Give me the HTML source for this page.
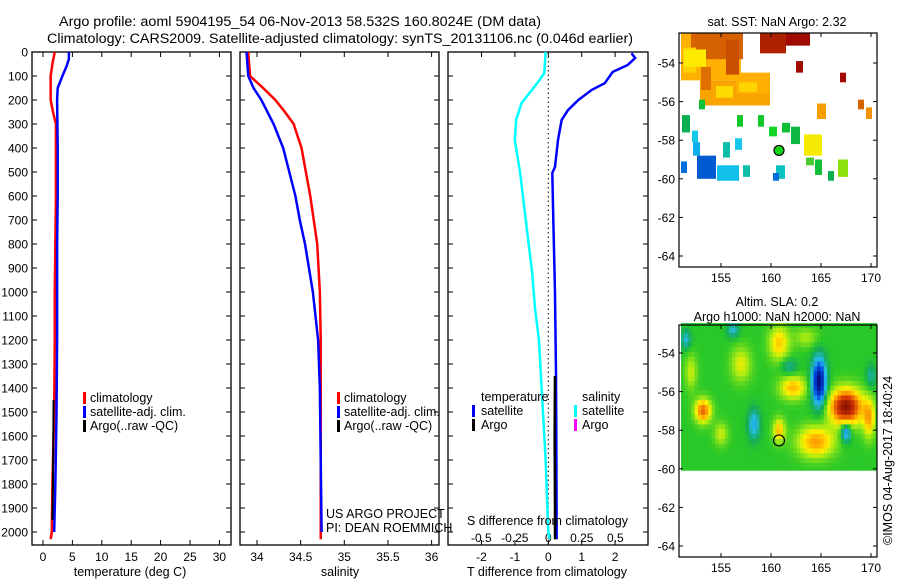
<!DOCTYPE html>
<html><head><meta charset="utf-8"><style>
html,body{margin:0;padding:0;background:#fff;}
svg{display:block;font-family:"Liberation Sans",sans-serif;}
text{fill:#000;}
</style></head><body>
<svg id="fig" width="900" height="580" viewBox="0 0 900 580" xmlns="http://www.w3.org/2000/svg">
<text x="59" y="26" font-size="13.5" textLength="482" lengthAdjust="spacingAndGlyphs">Argo profile: aoml 5904195_54 06-Nov-2013 58.532S 160.8024E (DM data)</text>
<text x="47" y="43" font-size="13.5" textLength="586" lengthAdjust="spacingAndGlyphs">Climatology: CARS2009. Satellite-adjusted climatology: synTS_20131106.nc (0.046d earlier)</text>
<g id="g"></g>
</svg>
<script>
// ---------- data ----------
const depthTicks=[0,100,200,300,400,500,600,700,800,900,1000,1100,1200,1300,1400,1500,1600,1700,1800,1900,2000];
const tempTicks=[0,5,10,15,20,25,30];
const salTicks=[34,34.5,35,35.5,36];
const tdiffTicks=[-2,-1,0,1,2];
const sdiffTicks=[-0.5,-0.25,0,0.25,0.5];
const sdiffLabels=["-0.5","-0.25","0","0.25","0.5"];
const latTicks=[-54,-56,-58,-60,-62,-64];
const lonTicks=[155,160,165,170];

const tClimDepth=[0,50,100,200,250,300,400,600,800,1000,1200,1500,1800,2000,2030];
const tClimVal=[2.0,1.6,1.3,1.3,1.7,2.2,2.2,2.2,2.1,2.0,2.0,1.9,1.6,1.5,1.3];
const tSatDepth=[0,30,60,100,150,200,400,600,800,1000,1200,1500,1800,2000];
const tSatVal=[4.4,4.4,4.0,3.3,2.5,2.4,2.5,2.5,2.4,2.4,2.4,2.3,2.1,1.9];
const tArgoDepth=[1450,1600,1800,1950];
const tArgoVal=[1.8,1.75,1.7,1.6];

const sClimDepth=[0,100,150,200,250,300,400,500,600,700,800,1000,1200,2000,2030];
const sClimVal=[33.9,33.92,34.07,34.21,34.32,34.42,34.51,34.56,34.61,34.65,34.69,34.72,34.73,34.73,34.73];
const sSatDepth=[0,100,150,200,300,400,500,600,700,800,1000,1200,1400,2000];
const sSatVal=[33.88,33.9,33.96,34.05,34.19,34.3,34.37,34.44,34.49,34.55,34.64,34.7,34.72,34.74];

const tDiffDepth=[5,25,54,83,130,158,200,242,283,367,479,504,700,1000,1337,1600,2000,2030];
const tDiffVal=[2.49,2.6,2.38,1.93,1.69,1.3,0.9,0.59,0.4,0.29,0.2,0.12,0.15,0.2,0.23,0.24,0.25,0.25];
const sDiffDepth=[0,88,113,171,213,283,367,504,646,783,921,1063,1200,1396,1700,2000,2030];
const sDiffVal=[-0.02,-0.03,-0.06,-0.14,-0.2,-0.24,-0.25,-0.21,-0.18,-0.15,-0.12,-0.1,-0.07,-0.05,-0.02,0.0,0.01];
const tDiffArgoDepth=[1350,1600,1900,2030];
const tDiffArgoVal=[0.2,0.19,0.2,0.2];

// SST patches: lon0, lon1, lat0(top), lat1(bottom), value
const sstLon0=[159.6,158.9,151,152,162.5,166.9,152.9,156.5,164.6,168.7,169.5,151.1,152.8,156.6,158.7,159.8,161.1,162,163.3,163.5,164.4,165.7,166.7,152.1,152.2,155.2,156.4,152.6,151,154.6,157.2,160.5,160.2,153,155.5,151.2,151.3,154.5,156.8];
const sstLon1=[163.9,161.5,157,157.2,163.2,167.5,159.9,159.9,165.5,169.3,170.1,151.9,153.4,157.2,159.3,160.6,161.9,162.9,165.1,164.3,165.1,166.3,167.7,152.7,152.9,155.9,157.1,154.5,151.6,156.8,157.9,161.4,160.8,154,156.8,152.5,153.5,156.2,158.6];
const sstLat0=[-52.45,-52.45,-52.45,-52.45,-53.9,-54.5,-54.9,-54.5,-56.1,-55.9,-56.3,-56.7,-55.9,-56.7,-56.7,-57.3,-57.1,-57.3,-57.7,-58.9,-59.0,-59.6,-59.0,-57.5,-58.1,-58.1,-57.9,-58.8,-59.1,-59.3,-59.3,-59.3,-59.7,-54.2,-52.8,-53.2,-53.3,-55.2,-55.0];
const sstLat1=[-53.1,-53.5,-54.9,-53.8,-54.5,-55.0,-56.2,-55.6,-56.9,-56.4,-56.9,-57.6,-56.4,-57.3,-57.3,-57.8,-57.6,-58.2,-58.8,-59.3,-59.8,-60.1,-59.9,-58.1,-58.8,-58.9,-58.5,-60.0,-59.7,-60.1,-59.9,-60.0,-60.1,-55.4,-54.6,-54.5,-54.2,-55.8,-55.5];
const sstVal=[7,6.8,5.0,6.2,7,7,5.2,5.0,5.3,6.2,5.5,2.8,2.6,2.5,2.5,2.2,2.6,2.7,4.2,3.0,2.6,2.8,3.2,0.8,0.5,1.4,0.8,-0.6,-0.3,0.7,1.4,1.2,-0.3,6.0,6.4,4.6,4.3,4.5,4.6];
const argoLon=160.8, argoLat=-58.53, argoSST=2.32;

// SLA blobs: lon, lat, lon-radius, lat-radius, amplitude
const slaLon=[167.5,153.2,164.8,158.3,167.5,164.5,162.2,160.8,160.8,157,152,169.8,156.2,151.5,161.8,155,163.5,170];
const slaLat=[-56.8,-57.0,-55.5,-57.7,-58.1,-58.6,-55.8,-53.5,-58.0,-54.6,-55.0,-57.4,-52.8,-53.3,-54.7,-58.2,-53.2,-55.2];
const slaRx=[1.6,0.8,0.7,0.6,0.5,1.8,1.3,1.0,0.6,1.0,0.6,0.6,0.6,0.5,0.8,0.7,1.2,0.5];
const slaRy=[0.9,0.6,1.2,0.8,0.5,0.8,0.6,0.9,0.6,0.9,0.9,1.0,0.4,0.5,0.4,0.6,0.5,0.6];
const slaAmp=[0.62,0.4,-0.62,-0.25,-0.35,0.32,0.28,0.25,0.27,0.18,0.15,0.28,-0.2,-0.2,-0.15,0.15,0.12,-0.15];

// ---------- helpers ----------
const NS="http://www.w3.org/2000/svg";
const G=document.getElementById('g');
function mk(tag,attrs,parent){const e=document.createElementNS(NS,tag);for(const k in attrs)e.setAttribute(k,attrs[k]);(parent||G).appendChild(e);return e;}
function txt(s,x,y,size,anchor,parent){const e=mk('text',{x:x,y:y,'font-size':size,'text-anchor':anchor||'start'},parent);e.textContent=s;return e;}

const PT=52, PB=545, D0=52, DPX=0.24;
const yD=d=>D0+d*DPX;
const panels=[{l:32,r:231},{l:240,r:439},{l:448,r:648}];
const xT=v=>43+v*5.88;
const xS=v=>257+(v-34)*87.3;
const xTD=v=>548.3+v*33.4;
const xSD=v=>548.3+v*134;

function frame(p,name){const r=mk('rect',{x:p.l,y:PT,width:p.r-p.l,height:PB-PT,fill:'none',stroke:'#000','stroke-width':1.3});

}
function profile(ds,vs,fx,color,w,name){
  let pts=[];for(let i=0;i<ds.length;i++){pts.push(fx(vs[i])+','+yD(ds[i]));}
  const e=mk('polyline',{points:pts.join(' '),fill:'none',stroke:color,'stroke-width':w,'stroke-linejoin':'miter'});
  
  
}
function yTicks(p,labels){
  depthTicks.forEach(d=>{const y=yD(d);
    mk('line',{x1:p.l,x2:p.l+5,y1:y,y2:y,stroke:'#000'});
    mk('line',{x1:p.r-5,x2:p.r,y1:y,y2:y,stroke:'#000'});
    if(labels){const t=txt(String(d),28,y+4.5,12,'end');
      
      }
  });
}
function xTicks(p,ticks,fx,labs,ly){
  ticks.forEach((v,i)=>{const x=fx(v);
    mk('line',{x1:x,x2:x,y1:PB,y2:PB-5,stroke:'#000'});
    mk('line',{x1:x,x2:x,y1:PT,y2:PT+5,stroke:'#000'});
    const t=txt(labs?labs[i]:String(v),x,ly,12,'middle');
    
    
  });
}
function legendBar(x,y,color){mk('rect',{x:x,y:y-10,width:3,height:12,fill:color});}

// ---------- panel 1 ----------
frame(panels[0],'temperature-panel');
yTicks(panels[0],true);
xTicks(panels[0],tempTicks,xT,null,561);
profile(tClimDepth,tClimVal,xT,'#ff0000',2.5,'temp-climatology-line');
profile(tSatDepth,tSatVal,xT,'#0000ff',2.5,'temp-satellite-line');
profile(tArgoDepth,tArgoVal,xT,'#000000',2,'temp-argo-line');
let t=txt('temperature (deg C)',130,576,12.5,'middle');
legendBar(83,402,'#f00');legendBar(83,416,'#00f');legendBar(83,430,'#000');
txt('climatology',90,402,12.5);txt('satellite-adj. clim.',90,416,12.5);txt('Argo(..raw -QC)',90,430,12.5);

// ---------- panel 2 ----------
frame(panels[1],'salinity-panel');
yTicks(panels[1],false);
xTicks(panels[1],salTicks,xS,null,561);
profile(sClimDepth,sClimVal,xS,'#ff0000',2.5,'sal-climatology-line');
profile(sSatDepth,sSatVal,xS,'#0000ff',2.5,'sal-satellite-line');
t=txt('salinity',340,576,12.5,'middle');
legendBar(337,402,'#f00');legendBar(337,416,'#00f');legendBar(337,430,'#000');
txt('climatology',344,402,12.5);txt('satellite-adj. clim.',344,416,12.5);txt('Argo(..raw -QC)',344,430,12.5);
txt('US ARGO PROJECT',326,518,12.5);txt('PI: DEAN ROEMMICH',326,532,12.5);

// ---------- panel 3 ----------
frame(panels[2],'difference-panel');
yTicks(panels[2],false);
xTicks(panels[2],tdiffTicks,xTD,null,561);
sdiffTicks.forEach((v,i)=>{const tt=txt(sdiffLabels[i],xSD(v),542,12,'middle');});
mk('line',{x1:xTD(0),x2:xTD(0),y1:PT,y2:PB,stroke:'#000','stroke-dasharray':'1.5,3'});
profile(sDiffDepth,sDiffVal,xSD,'#00ffff',2.5,'sal-diff-satellite-line');
profile(tDiffDepth,tDiffVal,xTD,'#0000ff',2.5,'temp-diff-satellite-line');
profile(tDiffArgoDepth,tDiffArgoVal,xTD,'#000000',2.5,'temp-diff-argo-line');
txt('S difference from climatology',467,525,12.5);
t=txt('T difference from climatology',547,576,12.5,'middle');
txt('temperature',481,401,12.5);txt('satellite',481,415,12.5);txt('Argo',481,429,12.5);
legendBar(472,415,'#00f');legendBar(472,429,'#000');
txt('salinity',582,401,12.5);txt('satellite',582,415,12.5);txt('Argo',582,429,12.5);
legendBar(574,415,'#0ff');legendBar(574,429,'#f0f');

// ---------- maps ----------
const ML=679, MR=877;
const xLon=l=>721+(l-155)*10;
const rgb=c=>'rgb('+c.join(',')+')';
function lerpColor(stops,cols,v){
  if(v<=stops[0])return rgb(cols[0]);if(v>=stops[stops.length-1])return rgb(cols[cols.length-1]);
  for(let i=0;i<stops.length-1;i++){if(v<=stops[i+1]){const f=(v-stops[i])/(stops[i+1]-stops[i]);
    const a=cols[i],b=cols[i+1];return rgb([0,1,2].map(k=>Math.round(a[k]+(b[k]-a[k])*f)));}}
}
const sstStops=[-1,0,0.8,1.4,2.3,2.8,3.2,4.3,5,5.6,6.3,7];
const sstCols=[[0,64,192],[0,130,235],[20,200,235],[10,190,170],[20,215,20],[10,175,80],[140,225,10],[255,235,0],[255,176,0],[240,140,0],[208,90,0],[160,10,0]];
const slaStops=[-0.6,-0.4,-0.22,-0.08,0,0.12,0.2,0.3,0.45,0.62];
const slaCols=[[0,16,130],[0,70,225],[40,190,240],[20,170,90],[40,200,40],[170,235,20],[255,238,0],[255,170,0],[220,60,0],[140,20,0]];

function mapAxes(top,bot,lat54,names){
  const yLat=l=>lat54+(-54-l)*19.3;
  const r=mk('rect',{x:ML,y:top,width:MR-ML,height:bot-top,fill:'none',stroke:'#000','stroke-width':1.2});
  
  
  latTicks.forEach(l=>{const y=yLat(l);mk('line',{x1:ML,x2:ML+4,y1:y,y2:y,stroke:'#000'});mk('line',{x1:MR-4,x2:MR,y1:y,y2:y,stroke:'#000'});
    const tt=txt(String(l),675,y+4.5,12,'end');});
  lonTicks.forEach(l=>{const x=xLon(l);mk('line',{x1:x,x2:x,y1:bot,y2:bot-4,stroke:'#000'});mk('line',{x1:x,x2:x,y1:top,y2:top+4,stroke:'#000'});
    const tt=txt(String(l),x,bot+15,12,'middle');});
}
// SST map
const clip1=mk('clipPath',{id:'c1'});mk('rect',{x:ML,y:33,width:MR-ML,height:234},clip1);
const sstG=mk('g',{'clip-path':'url(#c1)'});
const yLat1=l=>63+(-54-l)*19.3;
for(let i=0;i<sstVal.length;i++){
  const e=mk('rect',{x:xLon(sstLon0[i]),y:yLat1(sstLat0[i]),width:(sstLon1[i]-sstLon0[i])*10,height:(sstLat0[i]-sstLat1[i])*19.3,fill:lerpColor(sstStops,sstCols,sstVal[i])},sstG);
  
  
}
const am=mk('circle',{cx:xLon(argoLon),cy:yLat1(argoLat),r:5,fill:lerpColor(sstStops,sstCols,argoSST),stroke:'#000','stroke-width':1.2});


mapAxes(33,267,63,'sst-map');
t=txt('sat. SST: NaN Argo: 2.32',777,26,12.5,'middle');

// SLA map
const yLat2=l=>353+(-54-l)*19.3;
const slaG=mk('g',{});
const cellLon=0.34, cellLat=0.25;
for(let lat=-52.45;lat>-60.1;lat-=cellLat){
  for(let lon=151;lon<170.6;lon+=cellLon){
    let v=0;const cl=lon+cellLon/2, ca=lat-cellLat/2;
    for(let k=0;k<slaAmp.length;k++){const dx=(cl-slaLon[k])/slaRx[k],dy=(ca-slaLat[k])/slaRy[k];v+=slaAmp[k]*Math.exp(-(dx*dx+dy*dy));}
    mk('rect',{x:xLon(lon).toFixed(2),y:yLat2(lat).toFixed(2),width:(cellLon*10+0.6).toFixed(2),height:(cellLat*19.3+0.6).toFixed(2),fill:lerpColor(slaStops,slaCols,v)},slaG);
  }
}


mk('rect',{x:ML-2,y:yLat2(-60.1),width:MR-ML+4,height:100,fill:'#fff'});
mk('rect',{x:MR,y:320,width:10,height:160,fill:'#fff'});
mk('rect',{x:ML-10,y:320,width:10,height:160,fill:'#fff'});
const am2=mk('circle',{cx:xLon(argoLon),cy:yLat2(argoLat),r:5.5,fill:'none',stroke:'#000','stroke-width':1.2});


mapAxes(325,557,353,'sla-map');
t=txt('Altim. SLA: 0.2',777,306,12.5,'middle');
t=txt('Argo h1000: NaN h2000: NaN',777,321,12.5,'middle');
t=mk('text',{x:0,y:0,'font-size':12.5,transform:'translate(892,545) rotate(-90)'});t.textContent='©IMOS 04-Aug-2017 18:40:24';


</script>
</body></html>
